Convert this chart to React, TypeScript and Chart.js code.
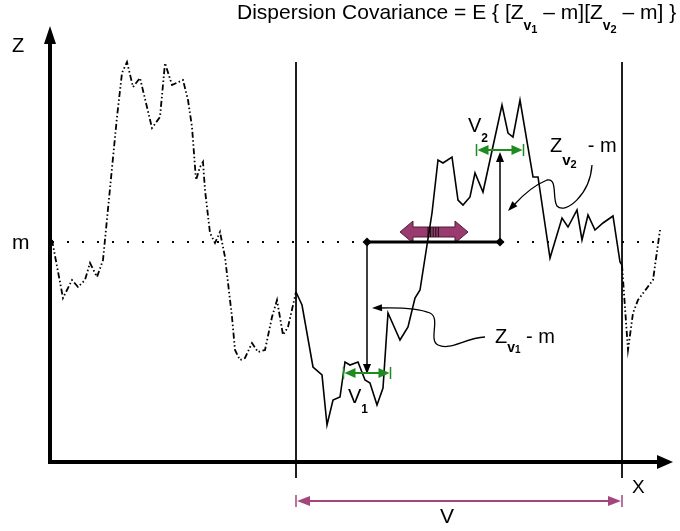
import { useEffect, useRef } from "react";
import { Chart, registerables } from "chart.js";

Chart.register(...registerables);

// Distance along the field (x) and deviation of Z from its mean m (m = 0).
// Part of the realisation left of the block V (drawn dash-dot-dot).
const outerLeftX = [0.2, 1.3, 2.2, 2.8, 3.5, 4.0, 4.7, 5.3, 6.7, 7.2, 7.7, 8.3, 9.0, 10.2, 11.0, 11.5, 12.2, 13.3, 13.8, 14.2, 14.6, 15.0, 15.3, 15.5, 16.0, 16.5, 17.0, 17.5, 18.2, 18.5, 19.0, 19.5, 20.2, 20.8, 21.5, 22.2, 22.7, 23.3, 23.8, 24.6];
const outerLeftZ = [0.2, -5.6, -3.8, -4.5, -3.8, -2.1, -3.5, -1.8, 12.5, 16.9, 18.0, 15.5, 16.4, 11.4, 12.5, 17.9, 15.7, 16.2, 14.2, 11.5, 6.2, 7.5, 8.0, 5.2, 0.9, -0.1, 1.0, -1.5, -7.5, -10.8, -11.8, -11.6, -10.1, -11.0, -10.8, -7.5, -5.8, -9.3, -8.5, -5.0];

// Part of the realisation inside the block V (solid).
const blockX = [24.6, 25.2, 26.3, 27.2, 27.7, 28.3, 29.0, 29.5, 30.0, 30.8, 31.5, 32.0, 32.7, 33.3, 33.8, 35.0, 35.8, 36.5, 37.0, 38.2, 38.8, 39.3, 40.2, 40.8, 41.3, 42.0, 42.5, 43.3, 45.2, 45.8, 46.3, 47.0, 48.3, 48.8, 50.0, 51.2, 51.8, 52.7, 53.2, 53.8, 54.5, 55.3, 56.3, 57.0, 57.2];
const blockZ = [-5.0, -6.3, -12.5, -13.3, -18.3, -15.8, -15.5, -12.0, -12.3, -12.0, -13.8, -14.1, -16.3, -14.6, -7.1, -9.8, -8.5, -5.6, -4.8, 2.9, 8.2, 7.9, 8.5, 4.2, 3.7, 4.5, 6.9, 5.0, 13.7, 10.9, 10.5, 14.2, 6.5, 6.5, -1.6, 2.4, 1.5, 3.2, 0.2, 2.7, 1.2, 1.9, 2.6, -2.0, -2.3];

// Part of the realisation right of the block V (dash-dot-dot).
const outerRightX = [57.2, 57.8, 58.3, 58.8, 60.3, 61.0];
const outerRightZ = [-2.3, -10.8, -7.1, -5.8, -3.8, 1.2];

// Mean level and its extent
const meanZ = [0, 0];
const meanX = [0.2, 61.6];

// Block V limits and the two supports v1, v2
const blockLimits = [24.6, 57.2];
const blockLineZ = [18.0, -23.6];
const v1Center = 31.7;
const v2Center = 45.0;
const supportHalfWidth = 2.35;
const zAtV1 = -13.2;
const zAtV2 = 9.0;

const FONT = '"Liberation Sans", Arial, Helvetica, sans-serif';
const GREEN = "#1f8a1f";
const PLUM = "#a4457c";
const PLUM_FILL = "#9a3a6f";

const toPoints = (xs: number[], ys: number[]) => xs.map((x, i) => ({ x, y: ys[i] }));

type Piece = { t: string; s: number; b?: boolean; dy?: number };

function drawRich(c: CanvasRenderingContext2D, pieces: Piece[], x: number, y: number) {
  let cx = x;
  c.textBaseline = "alphabetic";
  c.textAlign = "left";
  for (const p of pieces) {
    c.font = `${p.b ? "bold " : ""}${p.s}px ${FONT}`;
    c.fillText(p.t, cx, y + (p.dy || 0));
    cx += c.measureText(p.t).width;
  }
  return cx;
}

function head(c: CanvasRenderingContext2D, tx: number, ty: number, fx: number, fy: number, len: number, half: number, color: string) {
  const a = Math.atan2(ty - fy, tx - fx);
  const bx = tx - len * Math.cos(a);
  const by = ty - len * Math.sin(a);
  c.beginPath();
  c.moveTo(tx, ty);
  c.lineTo(bx + half * Math.sin(a), by - half * Math.cos(a));
  c.lineTo(bx - half * Math.sin(a), by + half * Math.cos(a));
  c.closePath();
  c.fillStyle = color;
  c.fill();
}

const overlay = {
  id: "covarianceOverlay",
  beforeDatasetsDraw(chart: any) {
    const c: CanvasRenderingContext2D = chart.ctx;
    const xs = chart.scales.x;
    const ys = chart.scales.y;
    const X = (v: number) => xs.getPixelForValue(v);
    const Y = (v: number) => ys.getPixelForValue(v);
    c.save();
    // moving-window block arrow between the supports
    const cx = X(38.4);
    const cy = Y(1.0);
    const hw = 34;
    const hl = 13;
    const hh = 11;
    const sh = 5;
    c.beginPath();
    c.moveTo(cx - hw, cy);
    c.lineTo(cx - hw + hl, cy - hh);
    c.lineTo(cx - hw + hl, cy - sh);
    c.lineTo(cx + hw - hl, cy - sh);
    c.lineTo(cx + hw - hl, cy - hh);
    c.lineTo(cx + hw, cy);
    c.lineTo(cx + hw - hl, cy + hh);
    c.lineTo(cx + hw - hl, cy + sh);
    c.lineTo(cx - hw + hl, cy + sh);
    c.lineTo(cx - hw + hl, cy + hh);
    c.closePath();
    c.fillStyle = PLUM_FILL;
    c.fill();
    c.strokeStyle = "#4e1d39";
    c.lineWidth = 1;
    c.stroke();
    c.strokeStyle = "#111";
    c.lineWidth = 1;
    for (let k = 0; k < 5; k++) {
      const sx = cx - 6 + k * 2.6;
      c.beginPath();
      c.moveTo(sx, cy - sh);
      c.lineTo(sx, cy + sh);
      c.stroke();
    }
    c.restore();
  },
  afterDatasetsDraw(chart: any) {
    const c: CanvasRenderingContext2D = chart.ctx;
    const xs = chart.scales.x;
    const ys = chart.scales.y;
    const X = (v: number) => xs.getPixelForValue(v);
    const Y = (v: number) => ys.getPixelForValue(v);
    c.save();
    c.lineCap = "butt";

    // axes
    const ox = X(0);
    const oy = Y(-22.0);
    c.strokeStyle = "#000";
    c.lineWidth = 4;
    c.beginPath();
    c.moveTo(ox, oy + 2);
    c.lineTo(ox, Y(20.5));
    c.moveTo(ox - 2, oy);
    c.lineTo(X(61.4), oy);
    c.stroke();
    head(c, ox, Y(21.6), ox, oy, 18, 6, "#000");
    head(c, X(62.3), oy, ox, oy, 16, 7, "#000");

    // thick segment on the mean between the two support centres
    c.lineWidth = 3;
    c.beginPath();
    c.moveTo(X(v1Center), Y(0));
    c.lineTo(X(v2Center), Y(0));
    c.stroke();
    for (const vx of [v1Center, v2Center]) {
      const px = X(vx);
      const py = Y(0);
      c.beginPath();
      c.moveTo(px - 4.5, py);
      c.lineTo(px, py - 4.5);
      c.lineTo(px + 4.5, py);
      c.lineTo(px, py + 4.5);
      c.closePath();
      c.fillStyle = "#000";
      c.fill();
    }

    // deviations Z(v) - m
    c.lineWidth = 1.5;
    c.beginPath();
    c.moveTo(X(v1Center), Y(0));
    c.lineTo(X(v1Center), Y(zAtV1) - 8);
    c.moveTo(X(v2Center), Y(0));
    c.lineTo(X(v2Center), Y(zAtV2) + 8);
    c.stroke();
    head(c, X(v1Center), Y(zAtV1), X(v1Center), Y(0), 10, 4, "#000");
    head(c, X(v2Center), Y(zAtV2), X(v2Center), Y(0), 10, 4, "#000");

    // support widths
    const support = (center: number, z: number) => {
      const x0 = X(center - supportHalfWidth);
      const x1 = X(center + supportHalfWidth);
      const py = Y(z);
      c.strokeStyle = GREEN;
      c.lineWidth = 2;
      c.beginPath();
      c.moveTo(x0 + 6, py);
      c.lineTo(x1 - 6, py);
      c.stroke();
      c.lineWidth = 1.5;
      c.beginPath();
      c.moveTo(x0, py - 6);
      c.lineTo(x0, py + 6);
      c.moveTo(x1, py - 6);
      c.lineTo(x1, py + 6);
      c.stroke();
      head(c, x0 + 1, py, x1, py, 11, 5, GREEN);
      head(c, x1 - 1, py, x0, py, 11, 5, GREEN);
    };
    support(v1Center, -13.1);
    support(v2Center, 9.2);

    // block V extent below the axis
    {
      const x0 = X(blockLimits[0]);
      const x1 = X(blockLimits[1]);
      const py = Y(-25.9);
      c.strokeStyle = PLUM;
      c.lineWidth = 2;
      c.beginPath();
      c.moveTo(x0 + 6, py);
      c.lineTo(x1 - 6, py);
      c.stroke();
      c.lineWidth = 1.5;
      c.beginPath();
      c.moveTo(x0, py - 6);
      c.lineTo(x0, py + 6);
      c.moveTo(x1, py - 6);
      c.lineTo(x1, py + 6);
      c.stroke();
      head(c, x0 + 1, py, x1, py, 13, 5, PLUM);
      head(c, x1 - 1, py, x0, py, 13, 5, PLUM);
    }

    // curly leader arrows
    c.strokeStyle = "#000";
    c.lineWidth = 1.3;
    c.beginPath();
    c.moveTo(X(54.2), Y(7.7));
    c.bezierCurveTo(X(54.0), Y(4.7), X(51.5), Y(2.7), X(50.7), Y(3.6));
    c.bezierCurveTo(X(50.2), Y(4.3), X(50.8), Y(6.4), X(49.7), Y(6.2));
    c.quadraticCurveTo(X(48.0), Y(5.5), X(46.4), Y(3.7));
    c.stroke();
    head(c, X(45.8), Y(3.1), X(47.6), Y(5.0), 10, 3.5, "#000");

    c.beginPath();
    c.moveTo(X(43.5), Y(-9.5));
    c.bezierCurveTo(X(41.5), Y(-9.6), X(40.0), Y(-10.9), X(38.8), Y(-10.3));
    c.bezierCurveTo(X(37.8), Y(-9.8), X(39.1), Y(-7.6), X(38.0), Y(-7.1));
    c.quadraticCurveTo(X(36.5), Y(-6.5), X(33.0), Y(-6.6));
    c.stroke();
    head(c, X(32.2), Y(-6.6), X(35.0), Y(-6.5), 10, 3.5, "#000");

    // text
    c.fillStyle = "#000";
    drawRich(c, [{ t: "Z", s: 20 }], X(-3.8), Y(19.0));
    drawRich(c, [{ t: "m", s: 21 }], X(-3.8), Y(-0.7));
    drawRich(c, [{ t: "X", s: 19 }], X(58.2), Y(-25.1));
    drawRich(c, [{ t: "V", s: 21 }], X(39.0), Y(-28.1));
    drawRich(c, [{ t: "V", s: 20 }, { t: "1", s: 12, b: true, dy: 10 }], X(29.8), Y(-16.1));
    drawRich(c, [{ t: "V", s: 20 }, { t: "2", s: 12, b: true, dy: 10 }], X(41.8), Y(11.0));
    drawRich(c, [
      { t: "Z", s: 20 },
      { t: "v", s: 15, b: true, dy: 13 },
      { t: "2", s: 11, b: true, dy: 16 },
      { t: "  - m", s: 20 },
    ], X(50.0), Y(9.0));
    drawRich(c, [
      { t: "Z", s: 20 },
      { t: "v", s: 14, b: true, dy: 9 },
      { t: "1", s: 10, b: true, dy: 10 },
      { t: " - m", s: 20 },
    ], X(44.5), Y(-10.1));
    drawRich(c, [
      { t: "Dispersion Covariance = E { [Z", s: 21 },
      { t: "v", s: 14, b: true, dy: 11 },
      { t: "1", s: 11, b: true, dy: 14 },
      { t: " – m][Z", s: 21 },
      { t: "v", s: 14, b: true, dy: 11 },
      { t: "2", s: 11, b: true, dy: 14 },
      { t: " – m] }", s: 21 },
    ], X(18.7), Y(22.3));
    c.restore();
  },
};

export default function App() {
  const ref = useRef<HTMLCanvasElement>(null);
  useEffect(() => {
    const prevMargin = document.body.style.margin;
    document.body.style.margin = "0";
    const dashDotDot = [6, 2.5, 1.5, 2.5, 1.5, 2.5];
    const chart = new Chart(ref.current!, {
      type: "line",
      data: {
        datasets: [
          {
            data: toPoints(meanX, meanZ),
            borderColor: "#000",
            borderWidth: 2,
            borderDash: [2, 13],
            pointRadius: 0,
          },
          {
            data: toPoints([blockLimits[0], blockLimits[0]], blockLineZ),
            borderColor: "#000",
            borderWidth: 1,
            pointRadius: 0,
          },
          {
            data: toPoints([blockLimits[1], blockLimits[1]], blockLineZ),
            borderColor: "#000",
            borderWidth: 1,
            pointRadius: 0,
          },
          {
            data: toPoints(outerLeftX, outerLeftZ),
            borderColor: "#000",
            borderWidth: 1.8,
            borderDash: dashDotDot,
            pointRadius: 0,
            tension: 0,
          },
          {
            data: toPoints(blockX, blockZ),
            borderColor: "#000",
            borderWidth: 1.6,
            pointRadius: 0,
            tension: 0,
          },
          {
            data: toPoints(outerRightX, outerRightZ),
            borderColor: "#000",
            borderWidth: 1.8,
            borderDash: dashDotDot,
            pointRadius: 0,
            tension: 0,
          },
        ],
      },
      options: {
        responsive: false,
        animation: false,
        events: [],
        layout: { padding: 0 },
        plugins: { legend: { display: false }, tooltip: { enabled: false }, title: { display: false } },
        scales: {
          x: { type: "linear", display: false, min: -5, max: 63 },
          y: { type: "linear", display: false, min: -28.9, max: 24.2 },
        },
      },
      plugins: [overlay],
    });
    return () => {
      chart.destroy();
      document.body.style.margin = prevMargin;
    };
  }, []);
  return <canvas ref={ref} width={680} height={531} style={{ display: "block" }} />;
}
